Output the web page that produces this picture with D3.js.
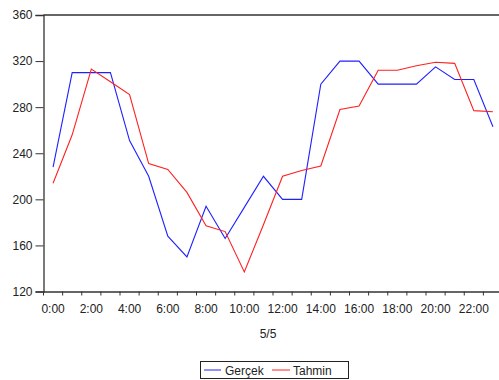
<!DOCTYPE html>
<html><head><meta charset="utf-8">
<script src="https://cdn.jsdelivr.net/npm/d3@7"></script>
<style>body{margin:0;background:#fff;} text{font-family:"Liberation Sans",Arial,sans-serif;}</style>
</head><body>
<svg id="c" width="499" height="380"></svg>
<script>
const hours = ["0:00","1:00","2:00","3:00","4:00","5:00","6:00","7:00","8:00","9:00","10:00","11:00","12:00","13:00","14:00","15:00","16:00","17:00","18:00","19:00","20:00","21:00","22:00","23:00"];
const gercek = [228,310,310,310,251,220,168,150,194,166,193,220,200,200,300,320,320,300,300,300,315,304,304,263];
const tahmin = [214,256,313,302,291,231,226,206,177,172,137,178,220,225,229,278,281,312,312,316,319,318,277,276];
const yTicks = [120,160,200,240,280,320,360];
const xLabelHours = hours.filter((d,i)=>i%2===0);
const seriesNames = ["Gerçek","Tahmin"];
const xTitle = "5/5";

const svg = d3.select("#c");
const L = 43.5, R = 502.5, T = 15, B = 291.5;
const x = d3.scaleBand().domain(hours).range([L,R]);
const y = d3.scaleLinear().domain([120,360]).range([B,T]);

// frame top
svg.append("line").attr("x1",L).attr("x2",499).attr("y1",T).attr("y2",T).attr("stroke","#333").attr("stroke-width",1.3);

// y axis
const ya = svg.append("g").attr("transform",`translate(${L},0)`)
  .call(d3.axisLeft(y).tickValues(yTicks).tickSize(8).tickPadding(3));
ya.select(".domain").attr("stroke","#333").attr("stroke-width",1.3);
ya.selectAll(".tick line").attr("stroke","#333");
ya.selectAll("text").attr("font-size",12).attr("fill","#222").style("font-family","Liberation Sans, Arial, sans-serif");

// x axis
const xa = svg.append("g").attr("transform",`translate(0,${B})`)
  .call(d3.axisBottom(x).tickValues(xLabelHours).tickSize(0).tickPadding(13));
xa.select(".domain").attr("stroke","#333").attr("stroke-width",1.3);
xa.selectAll("text").attr("font-size",12).attr("fill","#222").style("font-family","Liberation Sans, Arial, sans-serif");
// tick marks at band boundaries
svg.append("g").selectAll("line").data(hours).join("line")
  .attr("x1",d=>x(d)).attr("x2",d=>x(d)).attr("y1",B).attr("y2",B+4).attr("stroke","#333");

// lines
const line = arr => d3.line().x((d,i)=>x(hours[i])+x.bandwidth()/2).y(d=>y(d))(arr);
svg.append("path").attr("d",line(gercek)).attr("fill","none").attr("stroke","#2020ff").attr("stroke-width",1.1);
svg.append("path").attr("d",line(tahmin)).attr("fill","none").attr("stroke","#ff2020").attr("stroke-width",1.1);

// x title
svg.append("text").attr("x",268).attr("y",338).attr("text-anchor","middle").attr("font-size",12).attr("fill","#222").text(xTitle);

// legend
const lg = svg.append("g");
lg.append("rect").attr("x",200.5).attr("y",361.5).attr("width",148).attr("height",17).attr("fill","#fff").attr("stroke","#222");
lg.append("line").attr("x1",204).attr("x2",221).attr("y1",370).attr("y2",370).attr("stroke","#2020ff");
lg.append("text").attr("x",225).attr("y",374.5).attr("font-size",12).attr("fill","#222").text(seriesNames[0]);
lg.append("line").attr("x1",272).attr("x2",290).attr("y1",370).attr("y2",370).attr("stroke","#ff2020");
lg.append("text").attr("x",293).attr("y",374.5).attr("font-size",12).attr("fill","#222").text(seriesNames[1]);
</script>
</body></html>
